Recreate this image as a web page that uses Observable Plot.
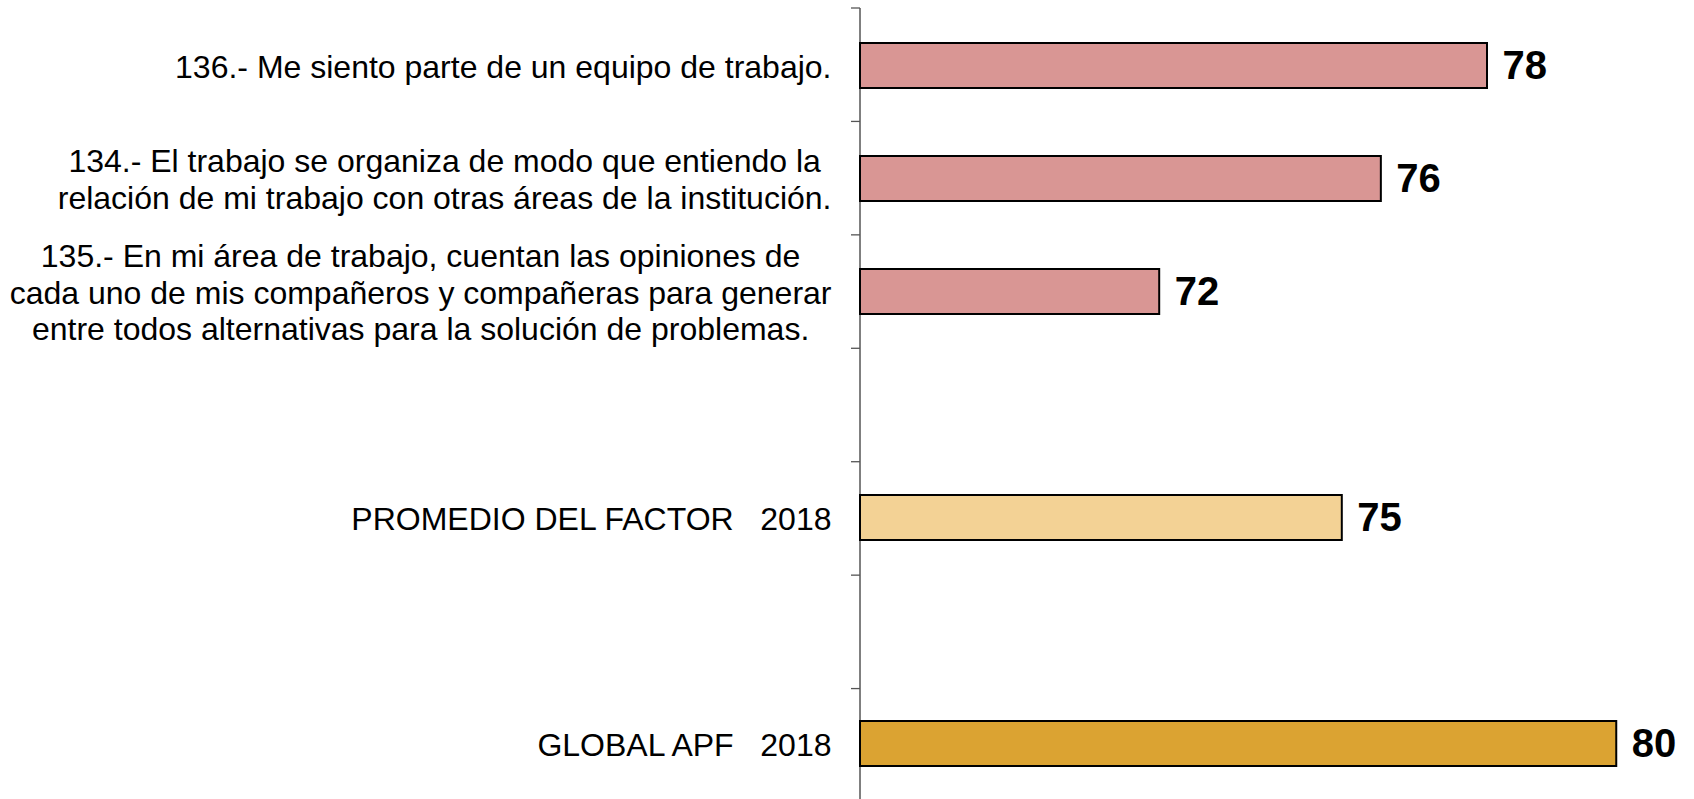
<!DOCTYPE html>
<html>
<head>
<meta charset="utf-8">
<script src="https://cdn.jsdelivr.net/npm/d3@7"></script>
<script src="https://cdn.jsdelivr.net/npm/@observablehq/plot@0.6"></script>
<style>
  html, body { margin: 0; padding: 0; background: #fff; overflow: hidden; }
  #chart svg { display: block; }
  #chart text { white-space: pre; }
</style>
</head>
<body>
<div id="chart"></div>
<script>
// ---- data ----
const keys = ["136", "134", "135", "gapA", "PROMEDIO", "gapB", "GLOBAL"];
const labels = [
  "136.- Me siento parte de un equipo de trabajo.",
  "134.- El trabajo se organiza de modo que entiendo la\nrelación de mi trabajo con otras áreas de la institución.",
  "135.- En mi área de trabajo, cuentan las opiniones de\ncada uno de mis compañeros y compañeras para generar\nentre todos alternativas para la solución de problemas.",
  "",
  "PROMEDIO DEL FACTOR   2018",
  "",
  "GLOBAL APF   2018"
];
const values = [77.8, 75.87, 71.84, null, 75.16, null, 80.15];
const colors = ["#D99694", "#D99694", "#D99694", null, "#F3D295", null, "#DBA332"];
const xDomain = [66.4, 81.5];

// ---- build rows ----
const rows = keys.map((k, i) => ({key: k, label: labels[i], value: values[i], color: colors[i]}));
const bars = rows.filter(d => d.value != null);
const labelRows = rows.filter(d => d.label !== "");

function axisWithBoundaryTicks(index, scales, channels, dimensions) {
  const {marginTop, marginBottom, marginLeft, height} = dimensions;
  const step = (height - marginTop - marginBottom) / keys.length;
  const g = d3.create("svg:g");
  g.append("line")
    .attr("x1", marginLeft).attr("x2", marginLeft)
    .attr("y1", marginTop).attr("y2", height - marginBottom)
    .attr("stroke", "#000").attr("stroke-width", 1);
  for (let k = 0; k <= keys.length; k++) {
    const yy = marginTop + k * step;
    g.append("line")
      .attr("x1", marginLeft - 9).attr("x2", marginLeft)
      .attr("y1", yy).attr("y2", yy)
      .attr("stroke", "#555").attr("stroke-width", 1.3);
  }
  return g.node();
}

const chart = Plot.plot({
  width: 1694,
  height: 802,
  marginTop: 8,
  marginBottom: 0,
  marginLeft: 860,
  marginRight: 3.5,
  style: {fontFamily: "'Liberation Sans', Arial, sans-serif", background: "#fff", overflow: "visible"},
  x: {domain: xDomain, axis: null},
  y: {domain: keys, paddingInner: 0.6, paddingOuter: 0.3, axis: null},
  marks: [
    Plot.barX(bars, {
      x1: () => xDomain[0],
      x2: "value",
      y: "key",
      fill: d => d.color,
      stroke: "#000",
      strokeWidth: 2
    }),
    axisWithBoundaryTicks,
    Plot.text(bars, {
      x: "value",
      y: "key",
      text: d => String(Math.round(d.value)),
      textAnchor: "start",
      dx: 15,
      fontSize: 40,
      fontWeight: "bold",
      fill: "#000"
    }),
    Plot.text(labelRows, {
      frameAnchor: "left",
      y: "key",
      text: "label",
      textAnchor: "end",
      dx: -29,
      lineAnchor: "middle",
      lineHeight: 1.135,
      fontSize: 32,
      fill: "#000"
    })
  ]
});

document.getElementById("chart").appendChild(chart);

// center the lines of each multi-line label inside its right-aligned block
chart.querySelectorAll("text").forEach(t => {
  const spans = Array.from(t.children).filter(c => c.tagName.toLowerCase() === "tspan");
  if (spans.length > 1) {
    let W = 0;
    spans.forEach(s => { W = Math.max(W, s.getComputedTextLength()); });
    t.setAttribute("text-anchor", "middle");
    t.style.textAnchor = "middle";
    spans.forEach(s => {
      s.setAttribute("x", String(-W / 2));
      s.setAttribute("text-anchor", "middle");
    });
  }
});
</script>
</body>
</html>
